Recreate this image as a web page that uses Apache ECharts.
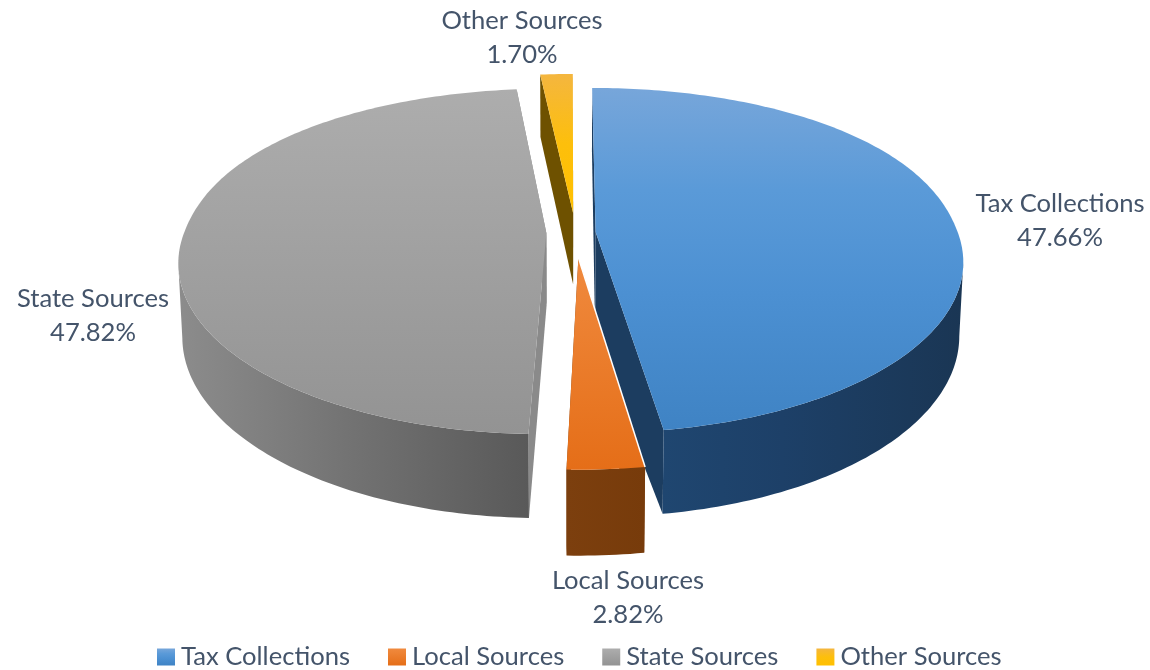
<!DOCTYPE html>
<html>
<head>
<meta charset="utf-8">
<style>
  html, body { margin: 0; padding: 0; background: #fff; }
  #main { width: 1150px; height: 670px; }
</style>
<script src="https://cdn.jsdelivr.net/npm/echarts@6/dist/echarts.min.js"></script>
</head>
<body>
<div id="main"></div>
<script>
const categories = ['Tax Collections', 'Local Sources', 'State Sources', 'Other Sources'];
const shares = [47.66, 2.82, 47.82, 1.70];

// back slices first so the front ones cover them
const drawOrder = [2, 3, 0, 1];

// perspective of the pie plane, backBulge rounds the far shoulders a little
const cam = { cx: 571, cy: 232, R: 362, S: 167.7, D: 73, k: 0.164, kz: 0.01, backBulge: 0.92 };

// how far each slice is pulled out, in pie radii
const pull = [[0.068, 0], [0.02, 0.15], [-0.068, 0.006], [0.006, -0.115]];
// depth of the wall under each slice's tip
const tipDepth = [1.5, 1, 1, 1];

const labelSpots = [[1060, 221], [628, 598], [93, 316], [522, 38]];

const grad = (stops, horizontal) => new echarts.graphic.LinearGradient(
  0, 0, horizontal ? 1 : 0, horizontal ? 0 : 1,
  stops.map(s => ({ offset: s[0], color: s[1] }))
);

const topFill = [
  grad([[0, '#77a6da'], [0.3, '#5a9ad8'], [0.6, '#4c90d2'], [1, '#3f83c4']]),
  grad([[0, '#f08a3e'], [1, '#e56e18']]),
  grad([[0, '#adadad'], [0.5, '#a0a0a0'], [1, '#939393']]),
  grad([[0, '#f4b63f'], [0.5, '#fdbf0c'], [1, '#ffc000']])
];
const wallFill = [
  grad([[0, '#1f4670'], [0.4, '#1d4068'], [1, '#1a3654']], true),
  grad([[0, '#7c3f0e'], [1, '#773b0b']], true),
  grad([[0, '#8c8c8c'], [0.5, '#727272'], [1, '#595959']], true),
  grad([[0, '#6e5100'], [1, '#6e5100']], true)
];
const cutFill = ['#1c3d60', '#7c3f0e', '#8a8a8a', '#6e5100'];

function project(x, y, z) {
  const w = 1 - cam.k * y + cam.kz * z;
  return [cam.cx + cam.R * x / w, cam.cy + (cam.S * y + cam.D * z) / w];
}

function renderSlice(i) {
  const total = shares.reduce((a, b) => a + b, 0);
  const before = shares.slice(0, i).reduce((a, b) => a + b, 0);
  const a0 = before / total * Math.PI * 2;
  const a1 = (before + shares[i]) / total * Math.PI * 2;
  const ox = pull[i][0], oy = pull[i][1];

  const rim = z => {
    const pts = [];
    const n = Math.max(4, Math.ceil((a1 - a0) * 60));
    for (let s = 0; s <= n; s++) {
      const a = a0 + (a1 - a0) * s / n;
      const c = Math.cos(a);
      const y = c > 0 ? -Math.pow(c, cam.backBulge) : -c;
      pts.push(project(ox + Math.sin(a), oy + y, z));
    }
    return pts;
  };
  const tipTop = project(ox, oy, 0);
  const tipLow = project(ox, oy, tipDepth[i]);
  const rimTop = rim(0);
  const rimLow = rim(1);
  const last = rimTop.length - 1;
  const poly = (points, fill) => ({ type: 'polygon', shape: { points }, style: { fill } });

  const kids = [
    poly([tipTop, rimTop[0], rimLow[0], tipLow], cutFill[i]),
    poly([tipTop, rimTop[last], rimLow[last], tipLow], cutFill[i])
  ];
  // only the part of the rim that faces the viewer gets an outer wall
  const front = [];
  rimTop.forEach((p, s) => {
    const next = rimTop[s + 1], prev = rimTop[s - 1];
    if ((next && next[0] < p[0]) || (prev && prev[0] > p[0])) front.push(s);
  });
  if (front.length > 1) {
    kids.push(poly(
      front.map(s => rimTop[s]).concat(front.slice().reverse().map(s => rimLow[s])),
      wallFill[i]
    ));
  }
  kids.push(poly([tipTop].concat(rimTop), topFill[i]));
  // thin white seam where the local slice sits over the tax wall
  if (i === 1) {
    kids.push({
      type: 'line',
      shape: { x1: tipTop[0], y1: tipTop[1], x2: rimTop[0][0], y2: rimTop[0][1] },
      style: { stroke: '#fff', lineWidth: 1.5 }
    });
  }
  kids.push({
    type: 'text',
    x: labelSpots[i][0],
    y: labelSpots[i][1],
    style: {
      text: categories[i] + '\n' + shares[i].toFixed(2) + '%',
      fill: '#44546a',
      font: '25.6px Lato',
      lineHeight: 34,
      align: 'center',
      verticalAlign: 'middle'
    }
  });
  return { type: 'group', children: kids };
}

const chart = echarts.init(document.getElementById('main'));
chart.setOption({
  animation: false,
  legend: {
    data: categories,
    left: 152,
    top: 639,
    icon: 'rect',
    itemWidth: 18,
    itemHeight: 17,
    itemGap: 38,
    selectedMode: false,
    textStyle: { color: '#44546a', fontFamily: 'Lato', fontSize: 25.6, padding: [0, 0, 0, 1] }
  },
  series: drawOrder.map(i => ({
    type: 'custom',
    name: categories[i],
    coordinateSystem: 'none',
    silent: true,
    itemStyle: { color: topFill[i] },
    data: [shares[i]],
    renderItem: () => renderSlice(i)
  }))
});
</script>
</body>
</html>
